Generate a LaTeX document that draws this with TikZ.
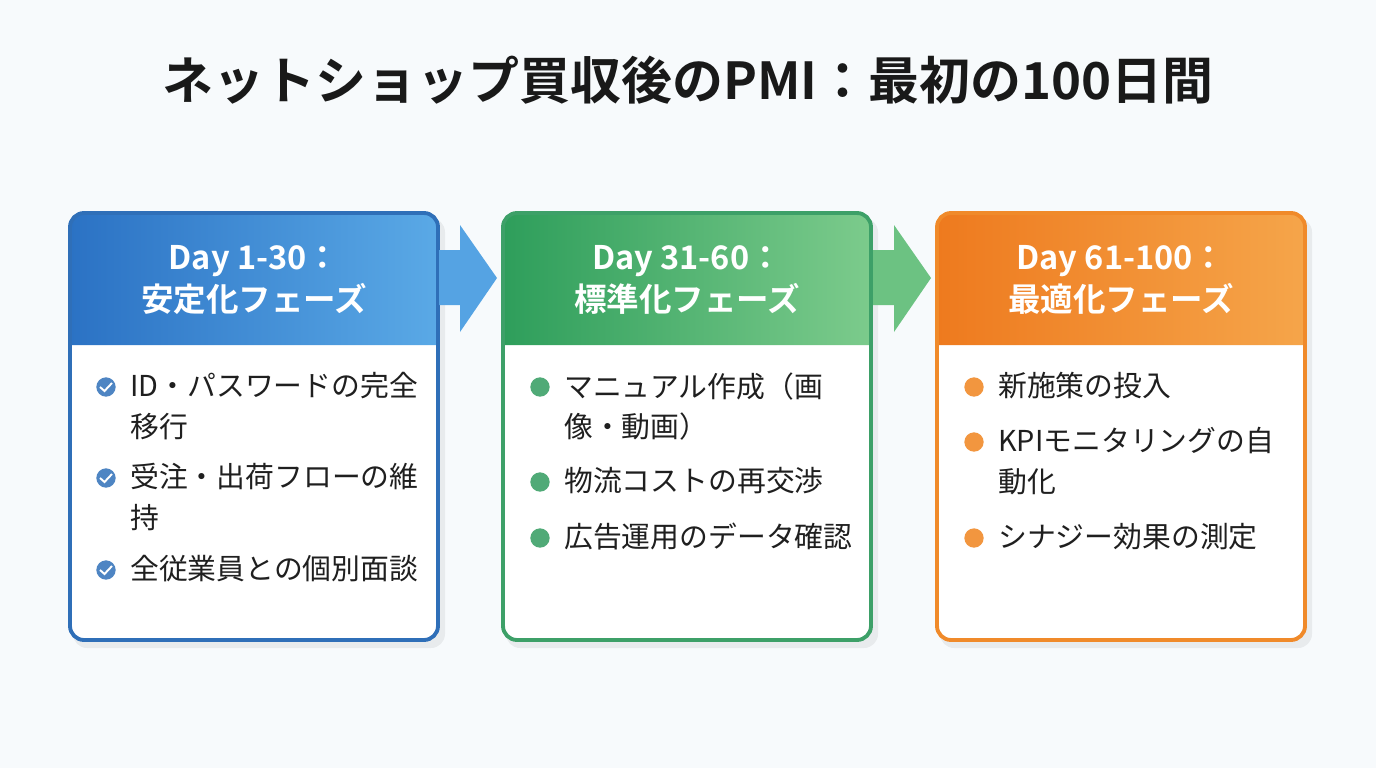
\documentclass[tikz,border=0pt]{standalone}
\usepackage{fontspec}
\setmainfont{Noto Sans CJK JP}[BoldFont={Noto Sans CJK JP Bold}]
\begin{document}
\begin{tikzpicture}[x=0.02cm,y=-0.02cm,
 title/.style={font=\bfseries\fontsize{29}{34}\selectfont,text=black!90},
 head/.style={font=\bfseries\fontsize{18.5}{24}\selectfont,text=white,align=center},
 item/.style={font=\fontsize{16.4}{23.2}\selectfont,text=black!88,anchor=north west,align=left,inner sep=0},
 dot/.style={circle,minimum size=11pt,inner sep=0}]
\definecolor{bg}{HTML}{F7FAFC}
\definecolor{bA}{HTML}{2B72C4}\definecolor{bB}{HTML}{5AA9E6}\definecolor{bE}{HTML}{2F6FB8}
\definecolor{gA}{HTML}{2E9E5B}\definecolor{gB}{HTML}{7CCB8C}\definecolor{gE}{HTML}{3DA068}
\definecolor{oA}{HTML}{EE7A1E}\definecolor{oB}{HTML}{F5A54A}\definecolor{oE}{HTML}{F08A2A}
\fill[bg] (0,0) rectangle (1376,768);
\node[title] (t) at (688,80) {ネットショップ買収後のPMI：最初の100日間};
% boxes
\foreach \x/\ca/\cb/\ce/\n in {70/bA/bB/bE/1,503/gA/gB/gE/2,937/oA/oB/oE/3}{
 \fill[black,opacity=0.06,rounded corners=8] (\x+3,218) rectangle (\x+375,648);
 \fill[white,rounded corners=8] (\x,213) rectangle (\x+368,640);
 \shade[left color=\ca,right color=\cb] (\x,345) [rounded corners=8]-- (\x,213) -- (\x+368,213) [sharp corners]-- (\x+368,345) -- cycle;
 \draw[\ce,line width=2.2pt,rounded corners=8] (\x,213) rectangle (\x+368,640);
}
\node[head] (h1) at (254,280) {Day 1-30：\\安定化フェーズ};
\node[head] (h2) at (687,280) {Day 31-60：\\標準化フェーズ};
\node[head] (h3) at (1121,280) {Day 61-100：\\最適化フェーズ};
% arrows
\fill[bB!90!bA] (439,250) -- (460,250) -- (460,225) -- (497,278) -- (460,332) -- (460,305) -- (439,305) -- cycle;
\fill[gB!80!gA] (873,250) -- (894,250) -- (894,225) -- (931,278) -- (894,332) -- (894,305) -- (873,305) -- cycle;
% items box1
\foreach \y/\t [count=\i] in {372/{ID・パスワードの完全\\移行},463/{受注・出荷フローの維\\持},555/{全従業員との個別面談}}{
 \node[item] (a\i) at (130,\y) {\t};
 \node[dot,fill=bE!85] (da\i) at (106,\y+15) {};
 \draw[white,line width=1.1pt] (100,\y+15) -- (104.5,\y+19) -- (112,\y+11);
}
\foreach \y/\t [count=\i] in {372/{マニュアル作成（画\\像・動画）},467/{物流コストの再交渉},523/{広告運用のデータ確認}}{
 \node[item] (b\i) at (564,\y) {\t};
 \node[dot,fill=gE!90] (db\i) at (540,\y+15) {};
}
\foreach \y/\t [count=\i] in {372/{新施策の投入},427/{KPIモニタリングの自\\動化},523/{シナジー効果の測定}}{
 \node[item] (c\i) at (998,\y) {\t};
 \node[dot,fill=oE!90] (dc\i) at (974,\y+15) {};
}
\end{tikzpicture}
\end{document}
